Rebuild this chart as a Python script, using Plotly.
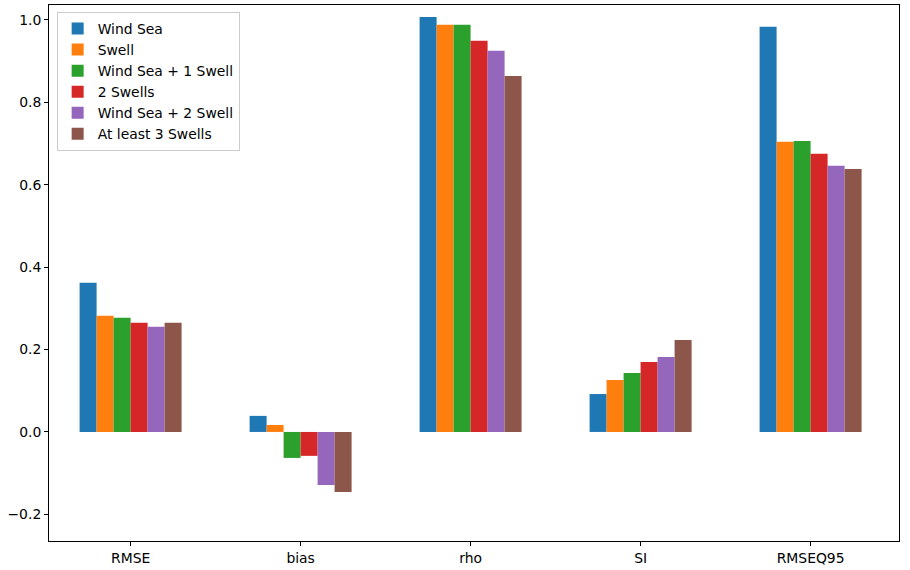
import plotly.graph_objects as go

categories = ["RMSE", "bias", "rho", "SI", "RMSEQ95"]
series_names = ["Wind Sea", "Swell", "Wind Sea + 1 Swell", "2 Swells", "Wind Sea + 2 Swell", "At least 3 Swells"]
wind_sea = [0.362, 0.039, 1.007, 0.092, 0.983]
swell = [0.282, 0.017, 0.988, 0.126, 0.704]
ws_1swell = [0.277, -0.063, 0.988, 0.143, 0.706]
two_swells = [0.265, -0.058, 0.949, 0.170, 0.675]
ws_2swell = [0.255, -0.129, 0.925, 0.182, 0.646]
three_swells = [0.265, -0.146, 0.864, 0.223, 0.638]
y_ticks = [-0.2, 0.0, 0.2, 0.4, 0.6, 0.8, 1.0]

colors = ["#1f77b4", "#ff7f0e", "#2ca02c", "#d62728", "#9467bd", "#8c564b"]
values = [wind_sea, swell, ws_1swell, two_swells, ws_2swell, three_swells]

fig = go.Figure()
for name, vals, c in zip(series_names, values, colors):
    fig.add_trace(go.Bar(x=list(range(len(categories))), y=vals, name=name,
                         marker=dict(color=c, line=dict(width=0))))

fig.update_layout(
    width=910, height=570,
    barmode="group", bargap=0.4, bargroupgap=0,
    plot_bgcolor="white", paper_bgcolor="white",
    margin=dict(l=49, r=11, t=5, b=29, autoexpand=False),
    font=dict(family="DejaVu Sans", size=13.9, color="black"),
    showlegend=True,
    legend=dict(x=0.009, y=0.987, xanchor="left", yanchor="top",
                bgcolor="rgba(255,255,255,0.8)", bordercolor="#cccccc", borderwidth=1,
                font=dict(size=13.9), tracegroupgap=0, itemwidth=30),
)
fig.update_xaxes(
    range=[-0.48, 4.52], tickmode="array", tickvals=list(range(len(categories))),
    ticktext=categories, showline=True, linecolor="black", linewidth=1, mirror=True,
    ticks="outside", ticklen=4, tickcolor="black", showgrid=False, zeroline=False,
    automargin=False,
)
fig.update_yaxes(
    range=[-0.2646, 1.036], tickmode="array", tickvals=y_ticks,
    ticktext=[f"{v:.1f}".replace("-", "\u2212") for v in y_ticks],
    showline=True, linecolor="black", linewidth=1, mirror=True,
    ticks="outside", ticklen=4, tickcolor="black", showgrid=False, zeroline=False,
    automargin=False,
)
fig.write_html("out.html", config={"displayModeBar": False},
               post_script="document.body.style.margin='0px';")
